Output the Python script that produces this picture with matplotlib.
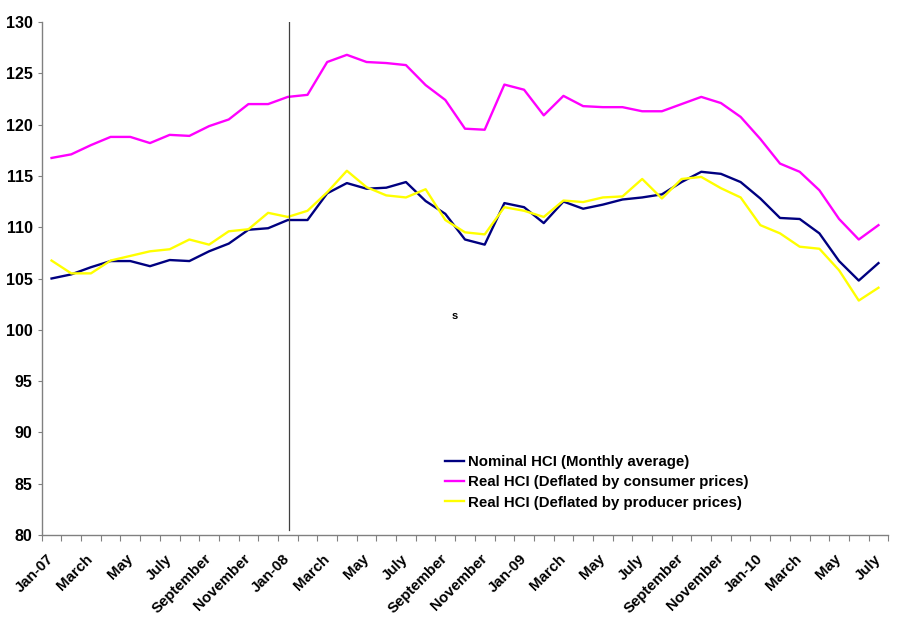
import matplotlib
matplotlib.use("Agg")
import matplotlib.pyplot as plt
import matplotlib.transforms as mtransforms
from matplotlib.font_manager import FontProperties
import numpy as np

plt.rcParams['font.family'] = ['Liberation Sans', 'DejaVu Sans']

tick_labels = ["Jan-07", "March", "May", "July", "September", "November",
               "Jan-08", "March", "May", "July", "September", "November",
               "Jan-09", "March", "May", "July", "September", "November",
               "Jan-10", "March", "May", "July"]

nominal = [105.0, 105.4, 106.1, 106.7, 106.7, 106.2, 106.8, 106.7, 107.65, 108.4,
           109.75, 109.9, 110.7, 110.7, 113.3, 114.3, 113.75, 113.85, 114.4, 112.55,
           111.3, 108.8, 108.3, 112.35, 111.95, 110.4, 112.5, 111.8, 112.2, 112.7,
           112.9, 113.2, 114.4, 115.4, 115.2, 114.4, 112.8, 110.9, 110.8, 109.4,
           106.7, 104.8, 106.5]

real_cpi = [116.75, 117.1, 118.0, 118.8, 118.8, 118.2, 119.0, 118.9, 119.85, 120.5,
            122.0, 122.0, 122.7, 122.9, 126.1, 126.8, 126.1, 126.0, 125.8, 123.85,
            122.4, 119.6, 119.5, 123.9, 123.4, 120.9, 122.8, 121.8, 121.7, 121.7,
            121.3, 121.3, 122.0, 122.7, 122.1, 120.75, 118.6, 116.2, 115.4, 113.6,
            110.8, 108.8, 110.2]

real_ppi = [106.75, 105.5, 105.5, 106.75, 107.2, 107.65, 107.85, 108.8, 108.3, 109.6,
            109.8, 111.4, 111.0, 111.6, 113.4, 115.5, 113.9, 113.1, 112.9, 113.7,
            110.7, 109.5, 109.3, 111.95, 111.6, 111.0, 112.6, 112.45, 112.9, 113.0,
            114.7, 112.8, 114.7, 114.9, 113.8, 112.9, 110.2, 109.4, 108.1, 107.9,
            105.8, 102.85, 104.1]

series_labels = ["Nominal HCI (Monthly average)",
                 "Real HCI (Deflated by consumer prices)",
                 "Real HCI (Deflated by producer prices)"]

x = np.arange(len(nominal))

fig = plt.figure(figsize=(9, 6.2), dpi=100)
ax = fig.add_axes([41.7/900, 1-535/620, (888.3-41.7)/900, (535-22)/620])

ax.plot(x, nominal, color="#000080", lw=1.7, label=series_labels[0])
ax.plot(x, real_cpi, color="#FF00FF", lw=1.7, label=series_labels[1])
ax.plot(x, real_ppi, color="#FFFF00", lw=1.7, label=series_labels[2])

# vertical marker line
ax.plot([12.04, 12.04], [80.5, 130], color="#404040", lw=0.9)

ax.text(20.5, 101.3, "s", fontsize=8, fontweight="bold", ha="center", va="center")

ax.set_xlim(-0.5, len(nominal) - 0.5)
ax.set_ylim(80, 130)
ax.set_yticks(np.arange(80, 131, 5))
ax.set_xticks(np.arange(-0.5, len(nominal), 1.0), minor=False)
ax.set_xticklabels([])
ax.set_xticks(np.arange(0, len(nominal), 2), minor=True)
ax.set_xticklabels(tick_labels, minor=True, rotation=45, ha="right", va="top",
                   rotation_mode="anchor", fontsize=10.8, fontweight="bold")
ax.tick_params(axis="x", which="minor", length=0, pad=12)
ax.tick_params(axis="x", which="major", length=4, color="#808080", direction="out")
ax.tick_params(axis="y", length=3, color="#808080", labelsize=11.5)
for lbl in ax.get_yticklabels():
    lbl.set_fontweight("bold")
shift = mtransforms.ScaledTranslation(-5/100, 0, fig.dpi_scale_trans)
for lbl in ax.get_xticklabels(minor=True):
    lbl.set_transform(lbl.get_transform() + shift)

for s in ["top", "right"]:
    ax.spines[s].set_visible(False)
for s in ["left", "bottom"]:
    ax.spines[s].set_color("#808080")
    ax.spines[s].set_linewidth(1.0)

leg = ax.legend(loc="upper left", bbox_to_anchor=((445-41.7)/846.6, (535-455)/513),
                frameon=False,
                prop=FontProperties(family="Liberation Sans", weight="bold", size=10.8),
                handlelength=1.3, handletextpad=0.25, labelspacing=0.42,
                borderpad=0, borderaxespad=0)

fig.savefig("out.png", dpi=100, facecolor="white")
